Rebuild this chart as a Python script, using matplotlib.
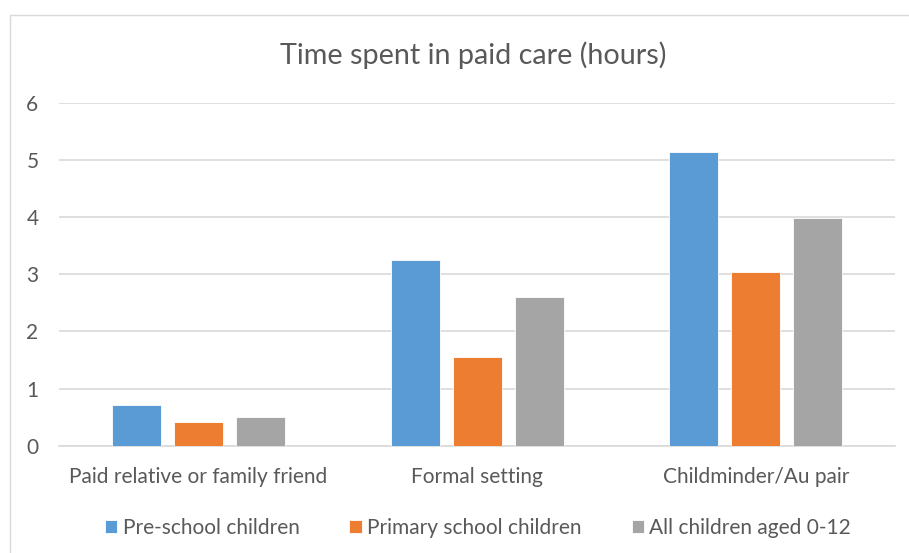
import matplotlib
matplotlib.use("Agg")
import matplotlib.pyplot as plt
from matplotlib.patches import Rectangle
import numpy as np

categories = ["Paid relative or family friend", "Formal setting", "Childminder/Au pair"]
series_names = ["Pre-school children", "Primary school children", "All children aged 0-12"]
pre_school = [0.71, 3.25, 5.14]
primary = [0.41, 1.55, 3.04]
all_children = [0.50, 2.60, 3.99]
colors = ["#5B9BD5", "#ED7D31", "#A5A5A5"]
yticks = [0, 1, 2, 3, 4, 5, 6]

plt.rcParams['font.family'] = ['Lato', 'DejaVu Sans']
text_color = "#595959"

W, H = 909, 553
fig = plt.figure(figsize=(W / 100, H / 100), dpi=100)
fig.patch.set_facecolor("white")

# chart border
fig.patches.append(Rectangle((10 / W, -0.1), 1.2, (H - 15) / H + 0.1, transform=fig.transFigure,
                             fill=False, edgecolor="#D9D9D9", linewidth=1.0))

ax = fig.add_axes([59.3 / W, 1 - 445.7 / H, (895 - 59.3) / W, (445.7 - 103) / H])
x = np.arange(len(categories))
width = 0.176
step = 0.2225
for i, (vals, name) in enumerate(zip([pre_school, primary, all_children], series_names)):
    ax.bar(x + (i - 1) * step, vals, width, color=colors[i], label=name,
           edgecolor="white", linewidth=0.6, zorder=3)

ax.set_xlim(-0.5, 2.5)
ax.set_ylim(0, 6)
ax.set_yticks(yticks)
ax.set_yticklabels([str(t) for t in yticks])
ax.set_xticks(x)
ax.set_xticklabels(categories)
ax.yaxis.grid(True, color="#D9D9D9", linewidth=1.2, zorder=0)
ax.set_axisbelow(True)
for s in ["left", "right", "top"]:
    ax.spines[s].set_visible(False)
ax.spines["bottom"].set_color("#D9D9D9")
ax.spines["bottom"].set_linewidth(1.2)
ax.tick_params(axis="both", length=0, colors=text_color, labelsize=15)
ax.tick_params(axis="y", pad=15)
ax.tick_params(axis="x", pad=15.5)

fig.text(473 / W, 1 - 55 / H, "Time spent in paid care (hours)", ha="center", va="center",
         fontsize=20.7, color=text_color)

handles, labels = ax.get_legend_handles_labels()
leg = fig.legend(handles, labels, loc="center", bbox_to_anchor=(478 / W, 1 - 528 / H), ncol=3,
                 frameon=False, fontsize=15, handlelength=0.6, handleheight=0.6,
                 handletextpad=0.25, columnspacing=2.4, labelcolor=text_color)

fig.savefig("out.png", dpi=100, facecolor="white")
